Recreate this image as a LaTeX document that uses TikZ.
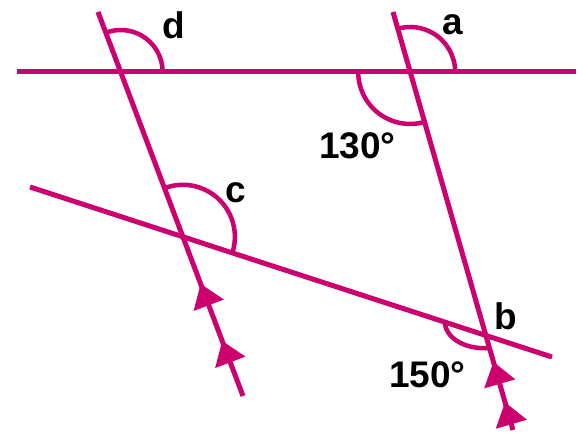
\documentclass[tikz,border=0pt]{standalone}
\usepackage{fontspec}
\setmainfont{Liberation Sans}
\usetikzlibrary{arrows.meta,decorations.markings}
\definecolor{mag}{RGB}{204,0,110}

\begin{document}
\begin{tikzpicture}[x=1pt, y=1pt,
    ray/.style={color=mag, line width=5pt},
    angmark/.style={color=mag, line width=4.5pt},
    lbl/.style={anchor=base, inner sep=0pt, font=\fontsize{37}{40}\selectfont\bfseries},
    parmark/.style 2 args={postaction={decorate}, decoration={markings,
        mark=at position #1 with {\arrow{Triangle[length=23pt, width=31pt]}},
        mark=at position #2 with {\arrow{Triangle[length=23pt, width=31pt]}}}}]
    \useasboundingbox (0,0) rectangle (584,443);

    % end points
    \coordinate (h1) at (17,371);
    \coordinate (h2) at (576,371);
    \coordinate (l1) at (98,431);
    \coordinate (l2) at (243,47);
    \coordinate (r1) at (393,431);
    \coordinate (r2) at (513,13);
    \coordinate (s1) at (30,256);
    \coordinate (s2) at (552,86);

    % crossings
    \coordinate (pd) at (120.7,371);
    \coordinate (pa) at (410.2,371);
    \coordinate (pc) at (182.9,206.2);
    \coordinate (pb) at (485.9,107.5);

    % lines
    \draw[ray] (h1) -- (h2);
    \draw[ray] (s1) -- (s2);
    \draw[ray, parmark={59pt}{120pt}] (l2) -- (l1);
    \draw[ray, parmark={29pt}{71pt}] (r2) -- (r1);

    % angles
    \draw[angmark] (pd) ++(0:42) arc[start angle=0, end angle=110.7, radius=42];
    \draw[angmark] (pa) ++(0:45) arc[start angle=0, end angle=106, radius=45];
    \draw[angmark] (pa) ++(180:52) arc[start angle=180, end angle=286, radius=52];
    \draw[angmark] (pc) ++(-18:52) arc[start angle=-18, end angle=110.7, radius=52];
    \coordinate (b0) at (445,120.8);
    \draw[angmark] (b0) arc[start angle=180, end angle=280, x radius=39, y radius=26];

    % labels
    \node[lbl] (d) at (173.5,404) {d};
    \node[lbl] (a) at (453,408) {a};
    \node[lbl] (c) at (235.5,240) {c};
    \node[lbl] (b) at (506,113) {b};
    \node[lbl] (t130) at (357.5,284) {130°};
    \node[lbl] (t150) at (427.5,55) {150°};

\end{tikzpicture}
\end{document}
